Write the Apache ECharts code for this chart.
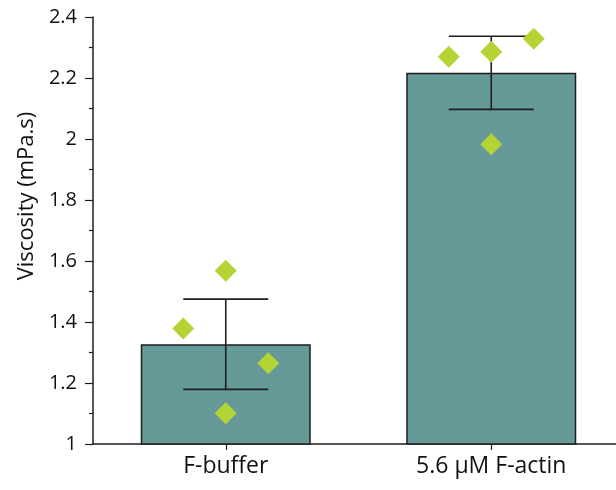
<!DOCTYPE html>
<html>
<head>
<meta charset="utf-8">
<script src="https://cdn.jsdelivr.net/npm/echarts@6/dist/echarts.min.js"></script>
<style>html,body{margin:0;padding:0;background:#fff}#c{width:616px;height:490px}</style>
</head>
<body>
<div id="c"></div>
<script>
const categories = ['F-buffer', '5.6 μM F-actin'];
const barMeans = [1.327, 2.217];
const errHalf = [0.148, 0.12];
const pointsBuffer = [1.568, 1.379, 1.265, 1.101];
const pointsActin = [2.270, 2.286, 2.329, 1.983];
const jitterSlotsBuffer = [0, -1, 1, 0];
const jitterSlotsActin = [-1, 0, 1, 0];
const yTicks = [1, 1.2, 1.4, 1.6, 1.8, 2, 2.2, 2.4];
const yTitle = 'Viscosity (mPa.s)';

const FONT = 'Open Sans';
const INK = '#1e1e1e';
const JIT = 0.16;

const scatterData = [];
pointsBuffer.forEach((v, i) => scatterData.push([0 + jitterSlotsBuffer[i] * JIT, v]));
pointsActin.forEach((v, i) => scatterData.push([1 + jitterSlotsActin[i] * JIT, v]));

const errData = barMeans.map((m, i) => [i, m - errHalf[i], m + errHalf[i]]);

const chart = echarts.init(document.getElementById('c'), null, {renderer: 'canvas'});
chart.setOption({
  animation: false,
  backgroundColor: '#fff',
  grid: {left: 93, width: 531, top: 17, height: 427, containLabel: false, outerBoundsMode: 'none'},
  graphic: [{
    type: 'text',
    x: 27, y: 196,
    rotation: Math.PI / 2,
    style: {text: yTitle, fill: '#111', fontSize: 22, fontFamily: FONT, align: 'center', verticalAlign: 'middle'}
  }],
  xAxis: [{
    type: 'category',
    data: categories,
    axisLine: {lineStyle: {color: INK, width: 1.5}},
    axisTick: {show: true, alignWithLabel: true, length: 6, lineStyle: {color: INK, width: 1.2}},
    axisLabel: {color: '#111', fontSize: 23, fontFamily: FONT, margin: 11, interval: 0}
  }, {
    type: 'value', min: -0.5, max: 1.5, show: false
  }],
  yAxis: {
    type: 'value',
    min: yTicks[0], max: yTicks[yTicks.length - 1], interval: 0.2,
    axisLine: {show: true, onZero: false, lineStyle: {color: INK, width: 1.5}},
    axisTick: {show: true, length: 8, lineStyle: {color: INK, width: 1.2}},
    minorTick: {show: true, splitNumber: 2, length: 4, lineStyle: {color: INK, width: 1.2}},
    splitLine: {show: false},
    axisLabel: {color: '#111', fontSize: 20, fontFamily: FONT, margin: 16}
  },
  series: [{
    type: 'bar',
    data: barMeans,
    barWidth: 170,
    itemStyle: {color: '#669a99', borderColor: INK, borderWidth: 1.5},
    z: 1
  }, {
    type: 'custom',
    data: errData,
    z: 3,
    renderItem: function (params, api) {
      const x = api.value(0);
      const lo = api.coord([x, api.value(1)]);
      const hi = api.coord([x, api.value(2)]);
      const hw = 42.5;
      const style = {stroke: INK, lineWidth: 1.6, fill: null};
      return {
        type: 'group',
        children: [
          {type: 'line', shape: {x1: lo[0], y1: lo[1], x2: hi[0], y2: hi[1]}, style: style},
          {type: 'line', shape: {x1: lo[0] - hw, y1: lo[1], x2: lo[0] + hw, y2: lo[1]}, style: style},
          {type: 'line', shape: {x1: hi[0] - hw, y1: hi[1], x2: hi[0] + hw, y2: hi[1]}, style: style}
        ]
      };
    }
  }, {
    type: 'scatter',
    xAxisIndex: 1,
    data: scatterData,
    symbol: 'diamond',
    symbolSize: 22,
    itemStyle: {color: '#b4d334', opacity: 1},
    z: 5
  }]
});
</script>
</body>
</html>
